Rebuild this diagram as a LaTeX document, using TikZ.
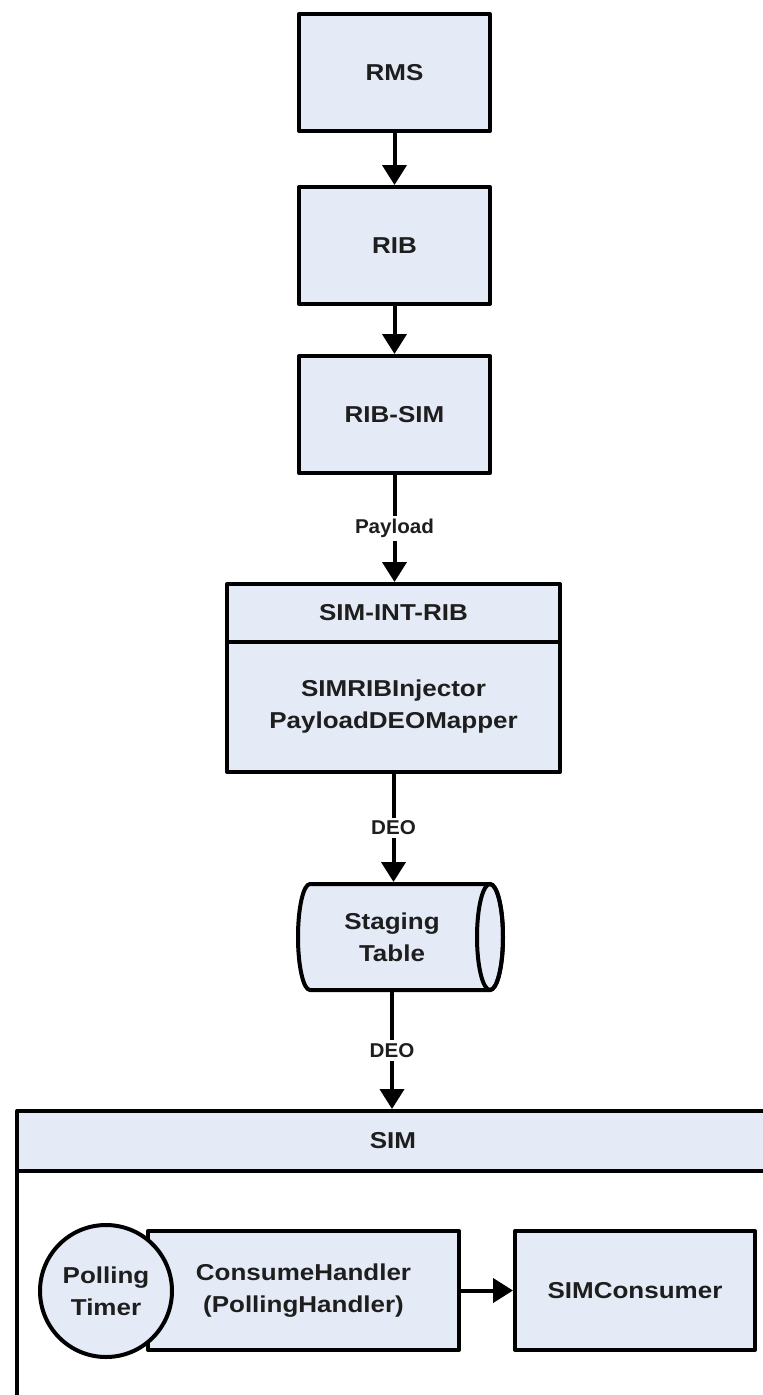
\documentclass[tikz,border=0pt]{standalone}
\usepackage{fontspec}
\newfontfamily\mainf{Liberation Sans}[FakeStretch=1.13]
\newfontfamily\labf{Liberation Sans}[FakeStretch=1.03]
\usetikzlibrary{arrows.meta}
\definecolor{boxfill}{RGB}{228,234,246}
\definecolor{txt}{RGB}{30,30,30}
\begin{document}
\begin{tikzpicture}[x=1pt,y=-1pt,
  box/.style={draw=black, line width=4pt, fill=boxfill, rectangle, line join=round,
    align=center, text=txt, font=\mainf\bfseries\fontsize{23}{32}\selectfont, inner sep=0pt},
  flow/.style={line width=4pt, -{Triangle[length=20pt,width=24pt]}},
  lab/.style={fill=white, inner sep=3pt, text=txt, font=\labf\bfseries\fontsize{20}{24}\selectfont},
  txtnode/.style={align=center, text=txt, font=\mainf\bfseries\fontsize{23}{32}\selectfont, inner sep=0pt, outer sep=0pt}]
\path[use as bounding box, clip] (0,0) rectangle (763,1395);

% top chain
\node[box, minimum width=191pt, minimum height=117pt] (rms) at (394.5,72.5) {RMS};
\node[box, minimum width=191pt, minimum height=117pt] (rib) at (394.5,245.5) {RIB};
\node[box, minimum width=191pt, minimum height=117pt] (ribsim) at (394.5,414.5) {RIB-SIM};

% SIM-INT-RIB
\node[box, minimum width=333pt, minimum height=130pt] (sirb) at (393.5,707) {SIMRIBInjector\\PayloadDEOMapper};
\node[box, minimum width=333pt, minimum height=58pt] (sirh) at (393.5,613) {SIM-INT-RIB};

% staging table cylinder
\draw[line width=4pt, fill=boxfill, line join=round]
  (310,884) -- (490,884) arc[start angle=-90, end angle=90, x radius=13, y radius=53]
  -- (310,990) arc[start angle=90, end angle=270, x radius=12, y radius=53] -- cycle;
\draw[line width=4pt] (490,937) ellipse[x radius=13, y radius=53];
\node[txtnode, minimum width=200pt, minimum height=110pt] (stg) at (392,937) {Staging\\Table};

% SIM container
\draw[line width=4pt, fill=white] (17,1171) rectangle (769,1440);
\node[box, minimum width=752pt, minimum height=60pt] (sim) at (393,1141) {SIM};
\node[box, minimum width=311pt, minimum height=119pt] (ch) at (303.5,1290.5) {ConsumeHandler\\(PollingHandler)};
\node[box, minimum width=240pt, minimum height=119pt] (sc) at (635,1290.5) {SIMConsumer};
\node[box, circle, minimum size=132pt] (pt) at (106,1291) {Polling\\Timer};

% connectors
\draw[flow] (rms) -- (rib);
\draw[flow] (rib) -- (ribsim);
\draw[flow] (ribsim.south) -- node[lab]{Payload} (ribsim.south |- sirh.north);
\draw[flow] (sirb.south) -- node[lab]{DEO} (sirb.south |- stg.north);
\draw[flow] (stg.south) -- node[lab]{DEO} (stg.south |- sim.north);
\draw[flow] (ch) -- (sc);
\end{tikzpicture}
\end{document}
